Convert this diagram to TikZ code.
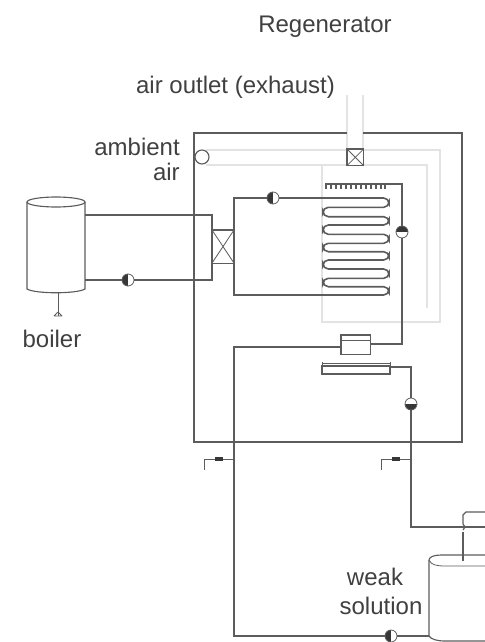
\documentclass[tikz,border=0pt]{standalone}
\usepackage{fontspec}
\usetikzlibrary{shapes.geometric}
\setmainfont{Liberation Sans}
\definecolor{ln}{gray}{0.36}
\definecolor{pale}{gray}{0.89}
\definecolor{txt}{gray}{0.25}
\tikzset{
  pipe/.style={draw=ln,line width=0.85pt},
  thick pipe/.style={draw=ln,line width=1.2pt},
  thin pipe/.style={draw=ln,line width=0.6pt},
  paleline/.style={draw=pale,line width=0.9pt},
  lbl/.style={text=txt,font=\fontsize{18pt}{20pt}\selectfont,inner sep=0pt},
  pumpbase/.style={circle,draw=ln,fill=white,line width=0.6pt,minimum size=9pt,inner sep=0pt},
  pumpL/.style={pumpbase,path picture={\fill[ln!60!black] (path picture bounding box.south west) rectangle (path picture bounding box.north);}},
  pumpT/.style={pumpbase,path picture={\fill[ln!60!black] (path picture bounding box.west) rectangle (path picture bounding box.north east);}},
  pumpB/.style={pumpbase,path picture={\fill[ln!60!black] (path picture bounding box.south west) rectangle (path picture bounding box.east);}},
  boxn/.style={draw=ln,fill=white,line width=0.85pt,inner sep=0pt,outer sep=0pt,anchor=north west},
  valve/.style={fill=ln!60!black,inner sep=0pt,minimum width=6pt,minimum height=2.4pt},
}
\begin{document}
\begin{tikzpicture}[x=0.75pt,y=-0.75pt]
\useasboundingbox (0,0) rectangle (485,642);
% pale air duct and air lines
\draw[paleline] (347,95) -- (347,149);
\draw[paleline] (363,95) -- (363,149);
\coordinate (f1) at (206,150); \coordinate (f2) at (206,165);
\draw[paleline] (f1) -- (440,150) -- (440,322) -- (322,322) -- (322,165);
\draw[paleline] (f2) -- (427,165) -- (427,308);
% main box
\coordinate (tg1) at (347,133); \coordinate (tg2) at (363,133);
\draw[pipe] (tg1) -- (194,133) -- (194,442) -- (462,442) -- (462,133) -- (tg2);
% fan and damper
\node[draw=ln,circle,fill=white,minimum size=10.5pt,inner sep=0pt,line width=0.85pt] (fan) at (202,157) {};
\node[boxn,minimum width=12.5pt,minimum height=12.5pt] (damper) at (347,149) {};
\draw[thin pipe] (damper.north west) -- (damper.south east) (damper.north east) -- (damper.south west);
% boiler
\coordinate (bt) at (56,202);
\draw[pipe] (27,202) -- (27,289) .. controls (35,294) and (77,294) .. (85,289) -- (85,202);
\node[draw=ln,ellipse,line width=0.85pt,minimum width=43.5pt,minimum height=7.5pt,inner sep=0pt] (boilertop) at (bt) {};
\coordinate (bs) at (58,292); \coordinate (bf) at (58,316);
\draw[thin pipe] (bs) -- (bf);
\draw[thin pipe] (54,316) -- (62,316) (58,312) -- (54,316) (58,312) -- (62,316);
% boiler circuit
\coordinate (b1) at (85,215); \coordinate (b2) at (85,280);
\node[boxn,minimum width=16.5pt,minimum height=24.8pt] (hx) at (212,230) {};
\draw[thin pipe] (hx.north west) -- (hx.south east) (hx.north east) -- (hx.south west);
\draw[thick pipe] (b1) -- (hx.north west |- b1) -- (hx.north west);
\node[pumpL] (p1) at (128,280) {};
\draw[pipe] (b2) -- (p1) -- (hx.south west |- p1) -- (hx.south west);
% regenerator circuit
\node[pumpL] (p2) at (273,198) {};
\coordinate (cb) at (384,295);
\draw[pipe] (hx.north east) -- (hx.north east |- p2) -- (p2) -- (383,198);
\draw[pipe] (hx.south east) -- (hx.south east |- cb) -- (cb);
\draw[thick pipe,rounded corners=4pt]
  (380,198) -- (389,198) -- (389,207.3) -- (323,207.3) -- (323,216.7) -- (389,216.7) -- (389,225)
  -- (323,225) -- (323,234.3) -- (389,234.3) -- (389,243.3) -- (323,243.3) -- (323,251.7)
  -- (389,251.7) -- (389,260) -- (323,260) -- (323,269) -- (389,269) -- (389,278.3)
  -- (323,278.3) -- (323,286.7) -- (389,286.7) -- (389,295) -- (380,295);
% spray bar
\node[pumpT] (p3) at (402,232) {};
\node[boxn,minimum width=21.8pt,minimum height=14.3pt] (ex) at (341,335) {};
\draw[thin pipe] (ex.west |- 0,340) -- (ex.east |- 0,340);
\coordinate (sb) at (325,184);
\draw[thick pipe] (sb) -- (402,184) -- (p3) -- (402,344) -- (ex.east |- 0,344);
\foreach \x in {326,331,336,341,346,351,356,361,366,371,376,381,385}
  \draw[draw=ln,line width=1.3pt] (\x,184) -- (\x,189);
% heat exchanger to tank
\coordinate (tl) at (429,636);
\node[pumpL] (p4) at (391,636) {};
\draw[thick pipe] (ex.west |- 0,347) -- (234,347) -- (234,442);
\draw[pipe] (234,442) -- (234,636) -- (p4) -- (tl);
% tray
\node[boxn,minimum width=51pt,minimum height=6pt] (tray) at (322,366) {};
\draw[thin pipe] (tray.north west) -- ++(0,-4) (tray.north east) -- ++(0,-4);
\draw[thin pipe] (tray.north west) ++(0,-3) -- ++(68,0);
\node[pumpB] (p5) at (411,404) {};
\draw[pipe] (tray.east |- 0,367) -- (411,367) -- (p5) -- (411,527) -- (485,527);
% drain valves
\coordinate (v1a) at (234,459); \coordinate (v1b) at (204,459); \coordinate (v1c) at (204,470);
\node[valve] (v1) at (219,459) {};
\draw[thin pipe] (v1a) -- (v1) -- (v1b) -- (v1c);
\coordinate (v2a) at (411,459); \coordinate (v2b) at (381,459); \coordinate (v2c) at (381,470);
\node[valve] (v2) at (396,459) {};
\draw[thin pipe] (v2a) -- (v2) -- (v2b) -- (v2c);
% tank
\draw[pipe] (485,555) -- (441,555) .. controls (434,555) and (429,557) .. (429,560) -- (429,636) .. controls (431,639) and (436,641) .. (445,641) -- (485,641);
\draw[thin pipe] (429,560) .. controls (431,565) and (437,566) .. (445,566) -- (485,566);
\coordinate (tk) at (463,561);
\draw[pipe] (485,512) -- (466,512) -- (463,515) -- (463,524) -- (465,527) -- (463,530);
\draw[thick pipe] (463,532) -- (tk);
% labels
\node[lbl] (t1) at (325,27) {Regenerator};
\node[lbl] (t2) at (235.5,87) {air outlet (exhaust)};
\node[lbl,anchor=east] (t3) at (180,147) {ambient};
\node[lbl,anchor=east] (t4) at (180,172) {air};
\node[lbl] (t5) at (52,339) {boiler};
\node[lbl] (t6) at (375,577) {weak};
\node[lbl] (t7) at (381,606) {solution};
\end{tikzpicture}
\end{document}
